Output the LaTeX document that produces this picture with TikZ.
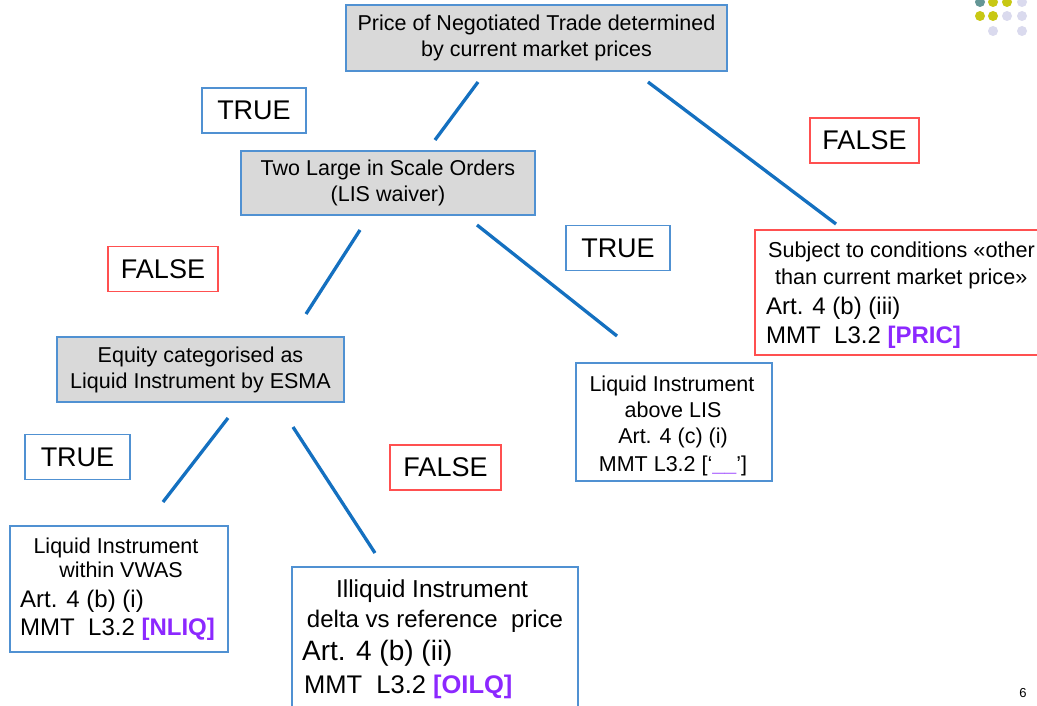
\documentclass[tikz,border=0pt]{standalone}
\usepackage{fontspec}
\setmainfont{Liberation Sans}
\definecolor{boxblue}{RGB}{80,145,210}
\definecolor{boxred}{RGB}{255,80,80}
\definecolor{linkblue}{RGB}{20,112,192}
\definecolor{boxgray}{RGB}{217,217,217}
\definecolor{purp}{RGB}{140,40,255}
\definecolor{dotteal}{RGB}{100,150,150}
\definecolor{dotyellow}{RGB}{200,200,20}
\definecolor{dotlav}{RGB}{218,218,238}
\newcommand\fs[2]{\fontsize{#1}{#2}\selectfont}
\begin{document}
\begin{tikzpicture}[x=1pt,y=-1pt,
  qbox/.style={draw=boxblue, fill=boxgray, line width=1.4pt, inner sep=0pt, align=center, font=\fs{21.5}{26}},
  tlabel/.style={draw=boxblue, fill=white, line width=1.3pt, inner sep=0pt, minimum height=45pt, font=\fs{27}{30}},
  flabel/.style={tlabel, draw=boxred},
  leafblue/.style={draw=boxblue, line width=1.3pt, inner sep=0pt},
  leafred/.style={draw=boxred, line width=1.3pt, inner sep=0pt},
  txt/.style={inner sep=0pt, anchor=base},
  txtl/.style={inner sep=0pt, anchor=base west},
  conn/.style={draw=linkblue, line width=3.3pt},
  hl/.style={text=purp, font=\bfseries}
]
\useasboundingbox[fill=white] (0,0) rectangle (1037,706);

% decorative dots
\fill[dotteal] (980,2) circle (5pt);
\fill[dotyellow] (993,2) circle (5pt);
\fill[dotyellow] (1007,2) circle (5pt);
\fill[dotlav] (1022,2) circle (5pt);
\fill[dotyellow] (980,16) circle (5pt);
\fill[dotyellow] (993,16) circle (5pt);
\fill[dotlav] (1007,16) circle (5pt);
\fill[dotlav] (1022,16) circle (5pt);
\fill[dotlav] (993,31) circle (5pt);
\fill[dotlav] (1022,31) circle (5pt);

% question boxes
\node[qbox, minimum width=381pt, minimum height=66pt] (top) at (536.5,38)
  {Price of Negotiated Trade determined\\by current market prices};
\node[qbox, minimum width=294pt, minimum height=64pt] (lis) at (388,183)
  {Two Large in Scale Orders\\(LIS waiver)};
\node[qbox, minimum width=287pt, minimum height=65pt] (liq) at (200.5,369.5)
  {Equity categorised as\\Liquid Instrument by ESMA};

% TRUE / FALSE labels
\node[tlabel, minimum width=104pt] (t1) at (254,110.5) {TRUE};
\node[flabel, minimum width=109pt] (f1) at (864.5,140.5) {FALSE};
\node[tlabel, minimum width=104pt] (t2) at (618,248) {TRUE};
\node[flabel, minimum width=110pt] (f2) at (163,269) {FALSE};
\node[tlabel, minimum width=105pt] (t3) at (77.5,457) {TRUE};
\node[flabel, minimum width=111pt] (f3) at (445.5,467.5) {FALSE};

% leaf: price conditions
\node[leafred, minimum width=295pt, minimum height=125pt] (pric) at (902.5,292.5) {};
\node[txtl, font=\fs{21.6}{26}] (pric1) at (768,257) {Subject to conditions «other};
\node[txtl, font=\fs{21.6}{26}] (pric2) at (775,284) {than current market price»};
\node[txtl, font=\fs{24}{28}] (pric3) at (766,314) {Art. 4 (b) (iii)};
\node[txtl, font=\fs{24}{28}] (pric4) at (766,343) {MMT\ \ L3.2 {\color{purp}\bfseries[PRIC]}};

% leaf: above LIS
\node[leafblue, minimum width=196pt, minimum height=118pt] (above) at (674,422) {};
\node[txt, font=\fs{21.5}{26}] (above1) at (672,391) {Liquid Instrument};
\node[txt, font=\fs{21.5}{26}] (above2) at (673,417) {above LIS};
\node[txt, font=\fs{21.5}{26}] (above3) at (673,443) {Art. 4 (c) (i)};
\node[txt, font=\fs{21.5}{26}] (above4) at (673,471) {MMT L3.2 [‘{\color{purp}\bfseries\_\_}’]};

% leaf: within VWAS
\node[leafblue, minimum width=218pt, minimum height=126pt] (vwas) at (119,589) {};
\node[txt, font=\fs{21.5}{26}] (vwas1) at (116,553) {Liquid Instrument};
\node[txt, font=\fs{21.5}{26}] (vwas2) at (121,577) {within VWAS};
\node[txtl, font=\fs{24}{28}] (vwas3) at (20,607) {Art. 4 (b) (i)};
\node[txtl, font=\fs{24}{28}] (vwas4) at (20,635) {MMT\ \ L3.2 {\color{purp}\bfseries[NLIQ]}};

% leaf: illiquid
\node[leafblue, minimum width=286pt, minimum height=153pt] (illiq) at (435,643.5) {};
\node[txt, font=\fs{24.5}{28}] (illiq1) at (432,597) {Illiquid Instrument};
\node[txt, font=\fs{24}{28}] (illiq2) at (435,627) {delta vs reference\ \ price};
\node[txtl, font=\fs{28}{32}] (illiq3) at (302,660) {Art. 4 (b) (ii)};
\node[txtl, font=\fs{25.5}{30}] (illiq4) at (304,693) {MMT\ \ L3.2 {\color{purp}\bfseries[OILQ]}};

% page number
\node[txt, font=\fs{13}{15}] (pgnum) at (1023,697) {6};

% connector end points
\coordinate (a1) at (478,82);  \coordinate (b1) at (435,140);
\coordinate (a2) at (648,82);  \coordinate (b2) at (836,224);
\coordinate (a3) at (360,230); \coordinate (b3) at (306,314);
\coordinate (a4) at (477,225); \coordinate (b4) at (617,336);
\coordinate (a5) at (228,418); \coordinate (b5) at (163,502);
\coordinate (a6) at (293,427); \coordinate (b6) at (375,553);
\draw[conn] (a1) -- (b1);
\draw[conn] (a2) -- (b2);
\draw[conn] (a3) -- (b3);
\draw[conn] (a4) -- (b4);
\draw[conn] (a5) -- (b5);
\draw[conn] (a6) -- (b6);
\end{tikzpicture}
\end{document}
